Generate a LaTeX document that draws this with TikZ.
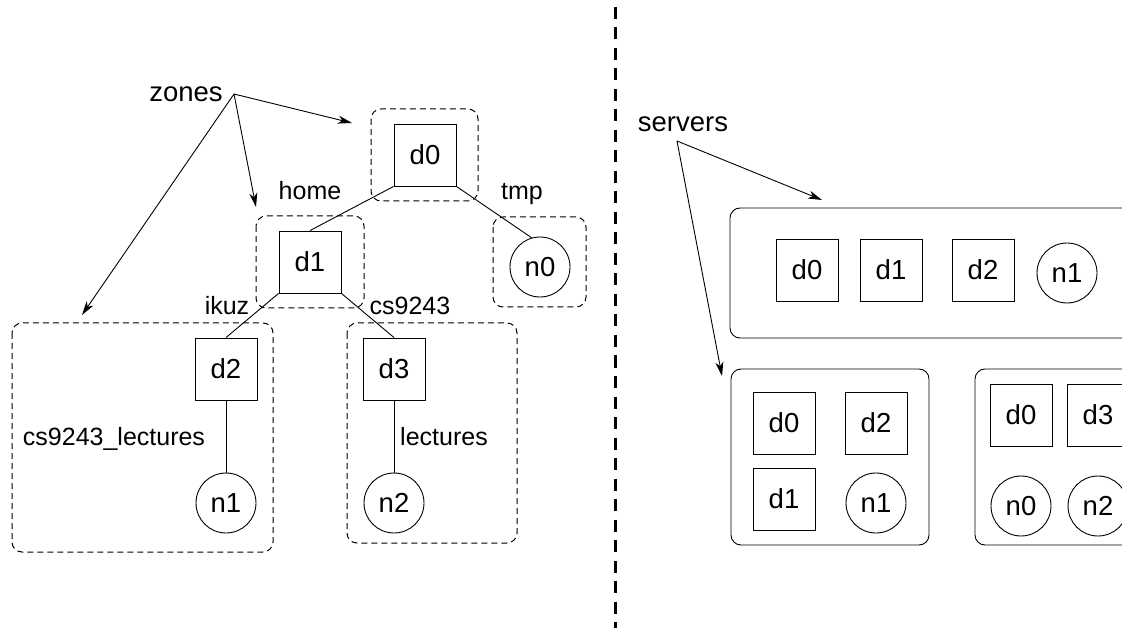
\documentclass[tikz,border=0pt]{standalone}
\usepackage{fontspec}
\setmainfont{Liberation Sans}
\usetikzlibrary{arrows.meta}
\begin{document}
\begin{tikzpicture}[x=1pt,y=-1pt,
  dnode/.style={draw, line width=0.9pt, minimum size=62pt, inner sep=0pt, font=\fontsize{27.5}{30}\selectfont},
  nnode/.style={draw, circle, line width=0.9pt, minimum size=60pt, inner sep=0pt, font=\fontsize{27.5}{30}\selectfont},
  zone/.style={draw, dash pattern=on 6pt off 4pt, rounded corners=10pt, line width=1pt},
  server/.style={draw, rounded corners=10pt, line width=0.9pt},
  conn/.style={line width=0.9pt},
  ptr/.style={line width=0.9pt, -{Stealth[length=14pt,width=8pt,inset=4pt]}},
  lab/.style={font=\fontsize{25}{28}\selectfont, anchor=base, inner sep=0pt},
  big/.style={font=\fontsize{27.5}{30}\selectfont, anchor=base, inner sep=0pt}]
\useasboundingbox (0,0) rectangle (1122,628);
\fill[white] (0,0) rectangle (1122,628);
\clip (0,0) rectangle (1122,628);

% divider
\draw[line width=3pt, dash pattern=on 12pt off 8.5pt] (615,7) -- (615,628);

% ---- left: zones
\draw[zone] (371,109) rectangle (478,201);
\draw[zone] (256,216) rectangle (364,308);
\draw[zone] (493,217) rectangle (586,307);
\draw[zone] (12,323) rectangle (273,552);
\draw[zone] (347,323) rectangle (517,543);

\node[dnode] (d0) at (425,155) {d0};
\node[dnode] (d1) at (310,262) {d1};
\node[nnode] (n0) at (540,267) {n0};
\node[dnode] (d2) at (226,369) {d2};
\node[nnode] (n1) at (226,503) {n1};
\node[dnode] (d3) at (394,369) {d3};
\node[nnode] (n2) at (394,503) {n2};

\draw[conn] (d0.south west) -- (d1.north);
\draw[conn] (d0.south east) -- (n0.106);
\draw[conn] (d1.south west) -- (d2.north);
\draw[conn] (d1.south east) -- (d3.north);
\draw[conn] (d2.south) -- (n1.north);
\draw[conn] (d3.south) -- (n2.north);

\node[lab] (lhome) at (310,200) {home};
\node[lab] (ltmp) at (522,200) {tmp};
\node[lab] (likuz) at (227,315) {ikuz};
\node[lab] (lcs) at (410,315) {cs9243};
\node[lab] (lcsl) at (114,445) {cs9243\_lectures};
\node[lab] (llec) at (444,445) {lectures};

\node[big] (zones) at (186,102) {zones};
\coordinate (zo) at (234,94);
\coordinate (zt1) at (352,123);
\coordinate (zt2) at (256,207);
\coordinate (zt3) at (82,315);
\draw[ptr] (zo) -- (zt1);
\draw[ptr] (zo) -- (zt2);
\draw[ptr] (zo) -- (zt3);

% ---- right: servers
\node[big] (servers) at (683,132) {servers};
\coordinate (so) at (677,141);
\coordinate (st1) at (822,200);
\coordinate (st2) at (722,376);
\draw[ptr] (so) -- (st1);
\draw[ptr] (so) -- (st2);

\draw[server] (730,208) rectangle (1145,338);
\draw[server] (731,369) rectangle (929,545);
\draw[server] (975,369) rectangle (1145,545);

\node[dnode] (sa0) at (807,270) {d0};
\node[dnode] (sa1) at (891,270) {d1};
\node[dnode] (sa2) at (983,270) {d2};
\node[nnode] (san1) at (1067,273) {n1};

\node[dnode] (sb0) at (784,423) {d0};
\node[dnode] (sb2) at (876,423) {d2};
\node[dnode] (sb1) at (784,499) {d1};
\node[nnode] (sbn1) at (876,503) {n1};

\node[dnode] (sc0) at (1021,415) {d0};
\node[dnode] (sc3) at (1098,415) {d3};
\node[nnode] (scn0) at (1021,506) {n0};
\node[nnode] (scn2) at (1098,506) {n2};
\end{tikzpicture}
\end{document}
